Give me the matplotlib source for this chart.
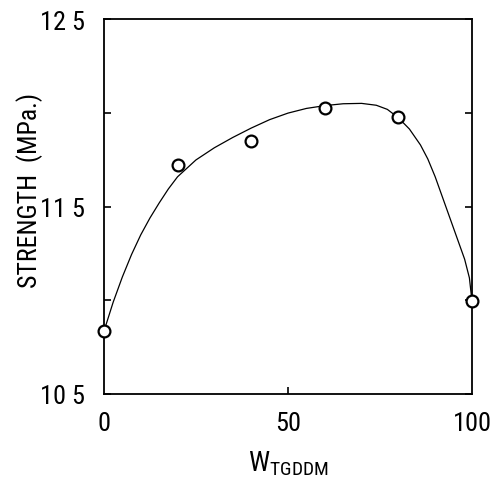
import matplotlib
matplotlib.use("Agg")
import matplotlib.pyplot as plt

plt.rcParams['font.family'] = ['Roboto Condensed', 'DejaVu Sans']

# measured data points
w_tgddm = [0, 20, 40, 60, 80, 100]
strength = [108.35, 117.25, 118.5, 120.25, 119.8, 109.95]

# hand-drawn trend curve
curve_x = [0, 2.5, 5, 7.5, 10, 12.5, 15, 17.5, 20, 25, 30, 35, 40, 45, 50, 55,
           60, 65, 70, 74, 77, 80, 83, 86, 88, 90, 92, 94, 96, 98, 99.3, 100]
curve_y = [108.35, 109.9, 111.25, 112.45, 113.5, 114.4, 115.2, 115.95, 116.6, 117.5,
           118.15, 118.7, 119.2, 119.65, 120.0, 120.25, 120.4, 120.5, 120.52, 120.42,
           120.2, 119.75, 119.15, 118.3, 117.55, 116.6, 115.5, 114.4, 113.3, 112.2,
           111.2, 109.95]

ytick_vals = [105, 110, 115, 120, 125]
ytick_labels = ["10 5", "", "11 5", "", "12 5"]
xtick_vals = [0, 50, 100]
xtick_labels = ["0", "50", "100"]

fig = plt.figure(figsize=(4.95, 4.81), dpi=100)
ax = fig.add_axes([0.210, 0.1788, 0.7435, 0.7786])

ax.plot(curve_x, curve_y, color='black', lw=0.9)
ax.plot(w_tgddm, strength, linestyle='none', marker='o', markersize=8.5,
        markerfacecolor='white', markeredgecolor='black', markeredgewidth=1.6,
        clip_on=False, zorder=3)

ax.set_xlim(0, 100)
ax.set_ylim(105, 125)

ax.set_yticks(ytick_vals)
ax.set_yticklabels(ytick_labels)
ax.set_xticks(xtick_vals)
ax.set_xticklabels(xtick_labels)

ax.tick_params(axis='y', direction='in', length=5, width=1.2, left=True, right=True,
               labelsize=19, pad=14)
ax.tick_params(axis='x', direction='in', length=5, width=1.2, bottom=True, top=False,
               labelsize=19, pad=12)
for tl, v in zip(ax.xaxis.get_major_ticks(), xtick_vals):
    if v != 50:
        tl.tick1line.set_visible(False)

for sp in ax.spines.values():
    sp.set_linewidth(1.3)

ax.set_ylabel("STRENGTH  (MPa.)", fontsize=18.5)
ax.yaxis.set_label_coords(-0.166, 0.547)
ax.set_xlabel(r"W$_{\mathregular{TGDDM}}$", fontsize=20, labelpad=10)

fig.savefig("out.png", dpi=100)
